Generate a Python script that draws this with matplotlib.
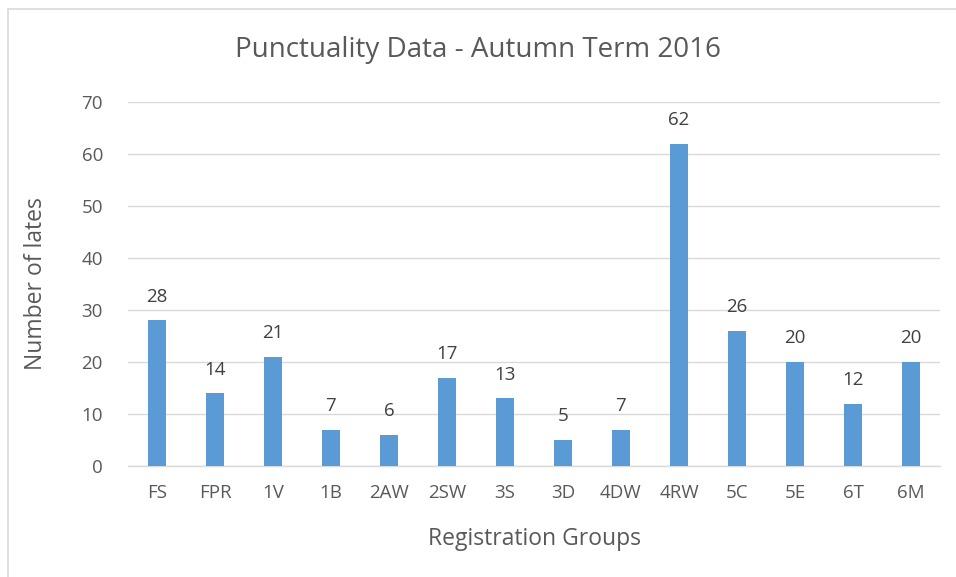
import matplotlib.pyplot as plt
from matplotlib.patches import Rectangle

groups = ["FS", "FPR", "1V", "1B", "2AW", "2SW", "3S", "3D", "4DW", "4RW", "5C", "5E", "6T", "6M"]
lates = [28, 14, 21, 7, 6, 17, 13, 5, 7, 62, 26, 20, 12, 20]

plt.rcParams['font.family'] = ['Open Sans', 'DejaVu Sans']
text_col = '#595959'

fig = plt.figure(figsize=(9.56, 5.77), dpi=100)
ax = fig.add_axes([128 / 956, 111 / 577, 812 / 956, 364 / 577])

x = range(len(groups))
bars = ax.bar(x, lates, width=0.31, color='#5B9BD5', zorder=3)
for b, v in zip(bars, lates):
    ax.annotate(str(v), (b.get_x() + b.get_width() / 2, v), xytext=(0, 17),
                textcoords='offset points', ha='center', va='center',
                fontsize=13.5, color='#404040')

ax.set_xlim(-0.5, len(groups) - 0.5)
ax.set_ylim(0, 70)
ax.set_yticks(range(0, 71, 10))
ax.set_xticks(list(x))
ax.set_xticklabels(groups)
ax.grid(axis='y', color='#D9D9D9', linewidth=1, zorder=0)
for s in ['top', 'right', 'left']:
    ax.spines[s].set_visible(False)
ax.spines['bottom'].set_color('#D9D9D9')
ax.spines['bottom'].set_linewidth(1)
ax.tick_params(axis='both', length=0, labelsize=13.5, colors=text_col)
ax.tick_params(axis='x', pad=13)
ax.tick_params(axis='y', pad=18)

ax.set_xlabel('Registration Groups', fontsize=16.5, color=text_col, labelpad=18)
ax.set_ylabel('Number of lates', fontsize=16.5, color=text_col, labelpad=24)
fig.text(0.5, 1 - 50 / 577, 'Punctuality Data - Autumn Term 2016', ha='center', va='center',
         fontsize=20, color=text_col)

fig.patches.append(Rectangle((8 / 956, -0.1), 1, 1 - 9 / 577 + 0.1, transform=fig.transFigure,
                             fill=False, edgecolor='#D9D9D9', linewidth=1.2))

fig.savefig('out.png', dpi=100)
